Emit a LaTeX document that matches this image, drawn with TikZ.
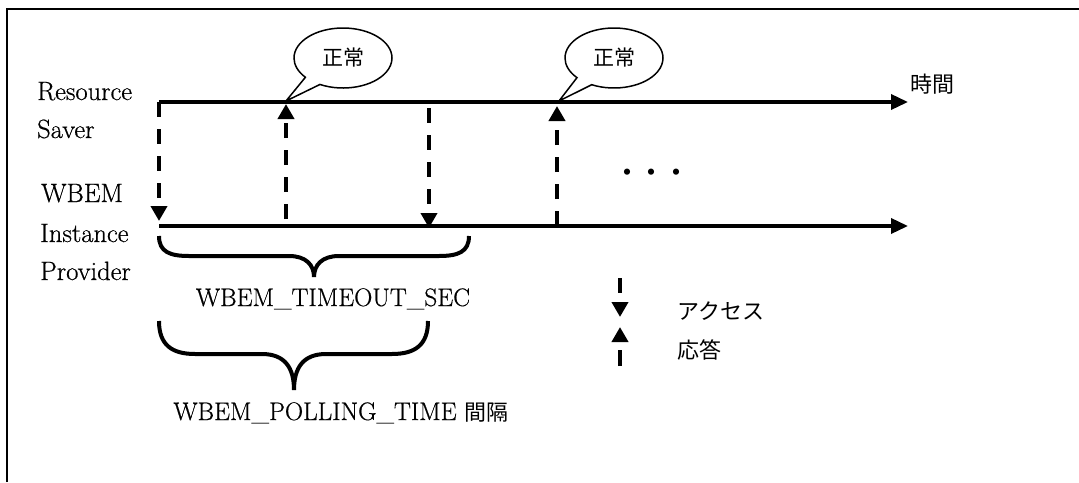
\documentclass[tikz,border=0pt]{standalone}
\usepackage{fontspec}
\setmainfont{Latin Modern Roman}[FakeBold=0.6]
\newfontfamily\jp{Noto Sans CJK JP}
\usetikzlibrary{arrows.meta,shapes.callouts}
\begin{document}
\begin{tikzpicture}[x=1pt,y=-1pt,
  tl/.style={line width=3.5pt, -{Triangle[length=17pt,width=15pt]}},
  dsh/.style={line width=4pt, dash pattern=on 15pt off 12pt, -{Triangle[length=15pt,width=16pt]}},
  lbl/.style={anchor=base west, inner sep=0pt, font=\fontsize{26.5}{30}\selectfont},
  ctr/.style={anchor=base, inner sep=0pt, font=\fontsize{25.3}{30}\selectfont},
  jpl/.style={anchor=west, inner sep=0pt, font=\jp\fontsize{22}{26}\selectfont},
  bubble/.style={ellipse callout, draw, line width=1.5pt, minimum width=98pt, minimum height=60pt, inner sep=0pt, callout pointer arc=22, font=\jp\fontsize{21}{24}\selectfont},
  bracestyle/.style={line width=4pt}
]
\useasboundingbox (0,0) rectangle (1079,482);
% frame
\coordinate (fb) at (7,482); \coordinate (fc) at (7,9); \coordinate (fr) at (1079,9);
\draw[line width=2pt] (fb) -- (fc) -- (fr);
% labels
\node[lbl] (res) at (37,100) {Resource};
\node[lbl] (sav) at (37,138) {Saver};
\node[lbl] (wb) at (41,202) {WBEM};
\node[lbl] (ins) at (40,242) {Instance};
\node[lbl] (pro) at (40,280) {Provider};
% time lines
\coordinate (rs0) at (159,102); \coordinate (rs1) at (908,102);
\coordinate (wi0) at (159,226); \coordinate (wi1) at (908,226);
\draw[tl] (rs0) -- (rs1);
\draw[tl] (wi0) -- (wi1);
\node[jpl] (time) at (910,84) {時間};
% messages
\coordinate (a1s) at (159,102); \coordinate (a1e) at (159,221);
\coordinate (a2s) at (286,219); \coordinate (a2e) at (286,104);
\coordinate (a3s) at (429,108); \coordinate (a3e) at (429,228);
\coordinate (a4s) at (557,226); \coordinate (a4e) at (557,106);
\draw[dsh] (a1s) -- (a1e);
\draw[dsh] (a2s) -- (a2e);
\draw[dsh] (a3s) -- (a3e);
\draw[dsh] (a4s) -- (a4e);
% bubbles
\coordinate (t1) at (286,101);
\coordinate (t2) at (559,101);
\node[bubble, callout absolute pointer={(t1)}] (b1) at (343,58) {正常};
\node[bubble, callout absolute pointer={(t2)}] (b2) at (614,58) {正常};
% dots
\node[inner sep=0pt, font=\jp\bfseries\fontsize{22}{26}\selectfont] (dots) at (652,175) {・\hspace{3pt}・\hspace{3pt}・};
% braces
\coordinate (br1l) at (159,236); \coordinate (br1r) at (469,236);
\draw[bracestyle] (br1l) .. controls (159,252) and (170,256) .. (189,256) -- (289,256)
  .. controls (306,256) and (314,265) .. (314,277)
  .. controls (314,265) and (322,256) .. (339,256) -- (439,256)
  .. controls (458,256) and (469,252) .. (br1r);
\node[ctr] (tos) at (333,306) {WBEM\_TIMEOUT\_SEC};
\coordinate (br2l) at (159,321); \coordinate (br2r) at (428,321);
\draw[bracestyle] (br2l) .. controls (159,345) and (172,354) .. (195,354) -- (262,354)
  .. controls (285,354) and (294,368) .. (294,390)
  .. controls (294,368) and (303,354) .. (326,354) -- (392,354)
  .. controls (415,354) and (428,345) .. (br2r);
\node[ctr] (pol) at (341,420) {WBEM\_POLLING\_TIME\hspace{8pt}{\jp\fontsize{22}{26}\selectfont 間隔}};
% legend
\coordinate (l1s) at (620,278); \coordinate (l1e) at (620,317);
\coordinate (l2s) at (620,366); \coordinate (l2e) at (620,327);
\draw[dsh, dash pattern=on 15pt off 30pt] (l1s) -- (l1e);
\draw[dsh, dash pattern=on 16pt off 30pt] (l2s) -- (l2e);
\node[jpl] (acc) at (677,311) {アクセス};
\node[jpl] (ans) at (677,350) {応答};
\end{tikzpicture}
\end{document}
